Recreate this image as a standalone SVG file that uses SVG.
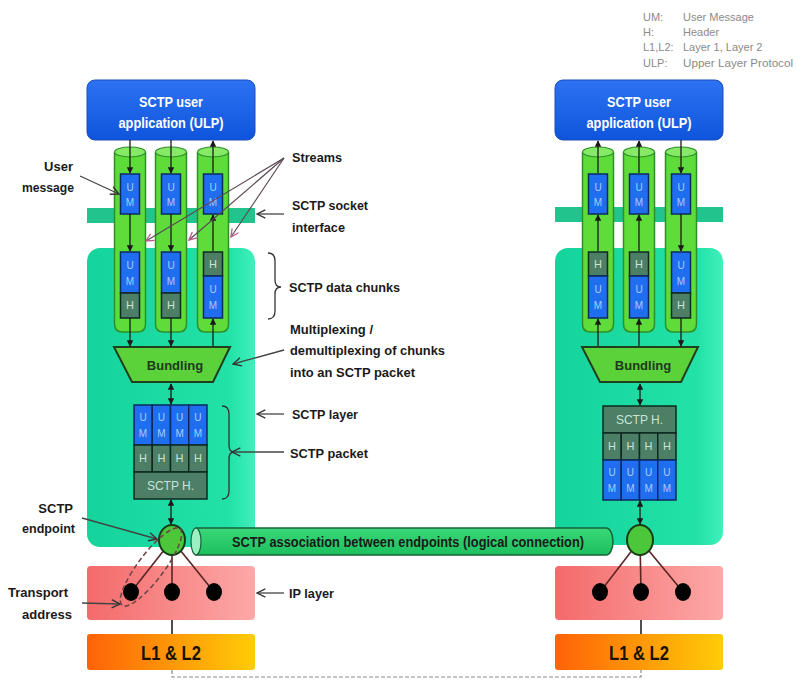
<svg xmlns="http://www.w3.org/2000/svg" width="797" height="680" viewBox="0 0 797 680">
<defs>
<linearGradient id="gUlp" x1="0" y1="0" x2="0" y2="1"><stop offset="0" stop-color="#2d72f2"/><stop offset="1" stop-color="#0f55dc"/></linearGradient>
<linearGradient id="gTeal" x1="0" y1="0" x2="1" y2="0"><stop offset="0" stop-color="#14d49c"/><stop offset="0.85" stop-color="#22e2a8"/><stop offset="1" stop-color="#40f0bc"/></linearGradient>
<linearGradient id="gIp" x1="0" y1="0" x2="1" y2="0"><stop offset="0" stop-color="#f46a6a"/><stop offset="1" stop-color="#fda8a8"/></linearGradient>
<linearGradient id="gL" x1="0" y1="0" x2="1" y2="0"><stop offset="0" stop-color="#ff6208"/><stop offset="1" stop-color="#ffcc08"/></linearGradient>
<linearGradient id="gTube" x1="0" y1="0" x2="0" y2="1"><stop offset="0" stop-color="#3ad878"/><stop offset="1" stop-color="#1cbf5e"/></linearGradient>
<marker id="ah" viewBox="0 0 10 10" refX="9" refY="5" markerWidth="5" markerHeight="5" orient="auto-start-reverse"><path d="M0,0 L10,5 L0,10 z" fill="#1a1a1a"/></marker>
<marker id="oa" viewBox="0 0 10 10" refX="9" refY="5" markerWidth="8" markerHeight="8" orient="auto"><path d="M1,1 L9,5 L1,9" fill="none" stroke="#333" stroke-width="1.3"/></marker>
<marker id="pa" viewBox="0 0 10 10" refX="9" refY="5" markerWidth="8" markerHeight="8" orient="auto"><path d="M1,1 L9,5 L1,9" fill="none" stroke="#c05a8a" stroke-width="1.4"/></marker>
</defs>
<style>
.lbl{font-family:"Liberation Sans",Arial,sans-serif;font-weight:bold;font-size:13px;fill:#1a1a1a}
.ulpT{font-family:"Liberation Sans",Arial,sans-serif;font-weight:bold;font-size:14px;fill:#fff;text-anchor:middle}
.leg{font-family:"Liberation Sans",Arial,sans-serif;font-size:11px;fill:#8a8a8a}
.ulp{fill:url(#gUlp);stroke:#1a4fb8;stroke-width:1}
.band{fill:#22c48e}
.layer{fill:url(#gTeal)}
.cyl{fill:#5edc3a;stroke:#2f8f2a;stroke-width:1.5}
.cylTop{fill:#86ea66;stroke:#2f8f2a;stroke-width:1.2}
.um{fill:#1f6ef0;stroke:#0d2a60;stroke-width:1.5}
.h{fill:#4d7e66;stroke:#0d2a20;stroke-width:1.5}
.bt{font-family:"Liberation Sans",Arial,sans-serif;font-size:10px;fill:#a8ccff;text-anchor:middle}
.ht{font-family:"Liberation Sans",Arial,sans-serif;font-size:11px;fill:#c8e4d4;text-anchor:middle}
.bund{fill:#5cd23a;stroke:#1f3f1f;stroke-width:2}
.bundT{font-family:"Liberation Sans",Arial,sans-serif;font-weight:bold;font-size:13px;fill:#1d3a1d;text-anchor:middle}
.ip{fill:url(#gIp)}
.l12{fill:url(#gL)}
.l12T{font-family:"Liberation Sans",Arial,sans-serif;font-weight:bold;font-size:20px;fill:#1a1200;text-anchor:middle}
.ep{fill:#4cc63a;stroke:#173d17;stroke-width:2}
.dot{fill:#000}
.ln{stroke:#1a1a1a;stroke-width:1.3;fill:none}
.eln{stroke:#5a2424;stroke-width:1.6}
.ptr{stroke:#444;stroke-width:1.3;fill:none}
.sptr{stroke:#5a4a55;stroke-width:1.2;fill:none}
</style>

<!-- Legend -->
<g id="legend">
<text class="leg" x="643" y="21">UM:</text><text class="leg" x="683" y="21">User Message</text>
<text class="leg" x="643" y="36">H:</text><text class="leg" x="683" y="36">Header</text>
<text class="leg" x="643" y="51">L1,L2:</text><text class="leg" x="683" y="51">Layer 1, Layer 2</text>
<text class="leg" x="643" y="67">ULP:</text><text class="leg" x="683" y="67" textLength="110" lengthAdjust="spacingAndGlyphs">Upper Layer Protocol</text>
</g>

<!-- LEFT ENDPOINT STACK -->
<g id="left-ulp">
<rect class="ulp" x="87" y="80" width="168" height="60" rx="8"/>
<text class="ulpT" x="171" y="107" textLength="64" lengthAdjust="spacingAndGlyphs">SCTP user</text>
<text class="ulpT" x="171" y="128" textLength="105" lengthAdjust="spacingAndGlyphs">application (ULP)</text>
</g>
<g id="left-socket"><rect class="band" x="87" y="208" width="168" height="15"/></g>
<g id="left-layer"><rect class="layer" x="87" y="248" width="168" height="299" rx="13"/></g>
<g id="left-ip"><rect class="ip" x="87" y="566" width="168" height="54" rx="4"/></g>
<g id="left-l12"><rect class="l12" x="87" y="634" width="168" height="36" rx="3"/><text class="l12T" x="171" y="660" textLength="60" lengthAdjust="spacingAndGlyphs">L1 &amp; L2</text></g>

<g id="left-streams">
<path class="cyl" d="M114.5,152 V324 Q114.5,332 122.5,332 H137.5 Q145.5,332 145.5,324 V152"/>
<ellipse class="cylTop" cx="130" cy="152" rx="15.5" ry="5"/>
<path class="cyl" d="M155.5,152 V324 Q155.5,332 163.5,332 H178.5 Q186.5,332 186.5,324 V152"/>
<ellipse class="cylTop" cx="171" cy="152" rx="15.5" ry="5"/>
<path class="cyl" d="M197.5,152 V324 Q197.5,332 205.5,332 H220.5 Q228.5,332 228.5,324 V152"/>
<ellipse class="cylTop" cx="213" cy="152" rx="15.5" ry="5"/>
</g>

<g id="left-chunks">
<rect class="um" x="120.5" y="174" width="19" height="40"/><text class="bt" x="130" y="191">U</text><text class="bt" x="130" y="206">M</text>
<rect class="um" x="161.5" y="174" width="19" height="40"/><text class="bt" x="171" y="191">U</text><text class="bt" x="171" y="206">M</text>
<rect class="um" x="203.5" y="174" width="19" height="40"/><text class="bt" x="213" y="191">U</text><text class="bt" x="213" y="206">M</text>
<rect class="um" x="120.5" y="252" width="19" height="41"/><text class="bt" x="130" y="269">U</text><text class="bt" x="130" y="285">M</text>
<rect class="h" x="120.5" y="293" width="19" height="25"/><text class="ht" x="130" y="309">H</text>
<rect class="um" x="161.5" y="252" width="19" height="41"/><text class="bt" x="171" y="269">U</text><text class="bt" x="171" y="285">M</text>
<rect class="h" x="161.5" y="293" width="19" height="25"/><text class="ht" x="171" y="309">H</text>
<rect class="h" x="203.5" y="252" width="19" height="24"/><text class="ht" x="213" y="268">H</text>
<rect class="um" x="203.5" y="276" width="19" height="42"/><text class="bt" x="213" y="293">U</text><text class="bt" x="213" y="309">M</text>
</g>

<g id="left-bundling">
<path class="bund" d="M114,347 H230 L213,382 H132 Z"/>
<text class="bundT" x="175" y="370">Bundling</text>
</g>

<g id="left-packet">
<rect class="um" x="134" y="405" width="18.25" height="40"/><rect class="um" x="152.25" y="405" width="18.25" height="40"/><rect class="um" x="170.5" y="405" width="18.25" height="40"/><rect class="um" x="188.75" y="405" width="18.25" height="40"/>
<text class="bt" x="143" y="421">U</text><text class="bt" x="143" y="437">M</text><text class="bt" x="161.4" y="421">U</text><text class="bt" x="161.4" y="437">M</text><text class="bt" x="179.6" y="421">U</text><text class="bt" x="179.6" y="437">M</text><text class="bt" x="197.9" y="421">U</text><text class="bt" x="197.9" y="437">M</text>
<rect class="h" x="134" y="445" width="18.25" height="27"/><rect class="h" x="152.25" y="445" width="18.25" height="27"/><rect class="h" x="170.5" y="445" width="18.25" height="27"/><rect class="h" x="188.75" y="445" width="18.25" height="27"/>
<text class="ht" x="143" y="462">H</text><text class="ht" x="161.4" y="462">H</text><text class="ht" x="179.6" y="462">H</text><text class="ht" x="197.9" y="462">H</text>
<rect class="h" x="134" y="472" width="73" height="27"/>
<text class="ht" x="170.5" y="490" style="font-size:12px">SCTP H.</text>
</g>

<!-- RIGHT ENDPOINT STACK -->
<g id="right-ulp">
<rect class="ulp" x="555" y="80" width="168" height="60" rx="8"/>
<text class="ulpT" x="639" y="107" textLength="64" lengthAdjust="spacingAndGlyphs">SCTP user</text>
<text class="ulpT" x="639" y="128" textLength="105" lengthAdjust="spacingAndGlyphs">application (ULP)</text>
</g>
<g id="right-socket"><rect class="band" x="555" y="207" width="168" height="15"/></g>
<g id="right-layer"><rect class="layer" x="555" y="248" width="168" height="297" rx="13"/></g>
<g id="right-ip"><rect class="ip" x="555" y="566" width="168" height="54" rx="4"/></g>
<g id="right-l12"><rect class="l12" x="555" y="634" width="168" height="36" rx="3"/><text class="l12T" x="639" y="660" textLength="60" lengthAdjust="spacingAndGlyphs">L1 &amp; L2</text></g>

<g id="right-streams">
<path class="cyl" d="M582.5,152 V324 Q582.5,332 590.5,332 H605.5 Q613.5,332 613.5,324 V152"/>
<ellipse class="cylTop" cx="598" cy="152" rx="15.5" ry="5"/>
<path class="cyl" d="M623.5,152 V324 Q623.5,332 631.5,332 H646.5 Q654.5,332 654.5,324 V152"/>
<ellipse class="cylTop" cx="639" cy="152" rx="15.5" ry="5"/>
<path class="cyl" d="M665.5,152 V324 Q665.5,332 673.5,332 H688.5 Q696.5,332 696.5,324 V152"/>
<ellipse class="cylTop" cx="681" cy="152" rx="15.5" ry="5"/>
</g>

<g id="right-chunks">
<rect class="um" x="588.5" y="174" width="19" height="40"/><text class="bt" x="598" y="191">U</text><text class="bt" x="598" y="206">M</text>
<rect class="um" x="629.5" y="174" width="19" height="40"/><text class="bt" x="639" y="191">U</text><text class="bt" x="639" y="206">M</text>
<rect class="um" x="671.5" y="174" width="19" height="40"/><text class="bt" x="681" y="191">U</text><text class="bt" x="681" y="206">M</text>
<rect class="h" x="588.5" y="252" width="19" height="24"/><text class="ht" x="598" y="268">H</text>
<rect class="um" x="588.5" y="276" width="19" height="42"/><text class="bt" x="598" y="293">U</text><text class="bt" x="598" y="309">M</text>
<rect class="h" x="629.5" y="252" width="19" height="24"/><text class="ht" x="639" y="268">H</text>
<rect class="um" x="629.5" y="276" width="19" height="42"/><text class="bt" x="639" y="293">U</text><text class="bt" x="639" y="309">M</text>
<rect class="um" x="671.5" y="252" width="19" height="41"/><text class="bt" x="681" y="269">U</text><text class="bt" x="681" y="285">M</text>
<rect class="h" x="671.5" y="293" width="19" height="25"/><text class="ht" x="681" y="309">H</text>
</g>

<g id="right-bundling">
<path class="bund" d="M582,347 H698 L681,382 H600 Z"/>
<text class="bundT" x="643" y="370">Bundling</text>
</g>

<g id="right-packet">
<rect class="h" x="603" y="406" width="73" height="27"/>
<text class="ht" x="639.5" y="424" style="font-size:12px">SCTP H.</text>
<rect class="h" x="603" y="433" width="18.25" height="27"/><rect class="h" x="621.25" y="433" width="18.25" height="27"/><rect class="h" x="639.5" y="433" width="18.25" height="27"/><rect class="h" x="657.75" y="433" width="18.25" height="27"/>
<text class="ht" x="612" y="450">H</text><text class="ht" x="630.4" y="450">H</text><text class="ht" x="648.6" y="450">H</text><text class="ht" x="666.9" y="450">H</text>
<rect class="um" x="603" y="460" width="18.25" height="40"/><rect class="um" x="621.25" y="460" width="18.25" height="40"/><rect class="um" x="639.5" y="460" width="18.25" height="40"/><rect class="um" x="657.75" y="460" width="18.25" height="40"/>
<text class="bt" x="612" y="476">U</text><text class="bt" x="612" y="492">M</text><text class="bt" x="630.4" y="476">U</text><text class="bt" x="630.4" y="492">M</text><text class="bt" x="648.6" y="476">U</text><text class="bt" x="648.6" y="492">M</text><text class="bt" x="666.9" y="476">U</text><text class="bt" x="666.9" y="492">M</text>
</g>

<!-- Association tube -->
<g id="association">
<path d="M196,528 H606 A7,13.5 0 0 1 606,555 H196 Z" fill="url(#gTube)" stroke="#17613a" stroke-width="1.5"/>
<ellipse cx="196" cy="541.5" rx="5" ry="13.5" fill="#9af0c0" stroke="#17613a" stroke-width="1.2"/>
<text class="lbl" x="232" y="547" textLength="352" lengthAdjust="spacingAndGlyphs" style="font-size:14px">SCTP association between endpoints (logical connection)</text>
</g>

<!-- connectors -->
<g id="connectors">
<!-- left stream flows -->
<line class="ln" x1="130" y1="140" x2="130" y2="173" marker-end="url(#ah)"/>
<line class="ln" x1="130" y1="214" x2="130" y2="251" marker-end="url(#ah)"/>
<line class="ln" x1="130" y1="318" x2="130" y2="346" marker-end="url(#ah)"/>
<line class="ln" x1="171" y1="140" x2="171" y2="173" marker-end="url(#ah)"/>
<line class="ln" x1="171" y1="214" x2="171" y2="251" marker-end="url(#ah)"/>
<line class="ln" x1="171" y1="318" x2="171" y2="346" marker-end="url(#ah)"/>
<line class="ln" x1="213" y1="173" x2="213" y2="141" marker-end="url(#ah)"/>
<line class="ln" x1="213" y1="251" x2="213" y2="215" marker-end="url(#ah)"/>
<line class="ln" x1="213" y1="346" x2="213" y2="319" marker-end="url(#ah)"/>
<line class="ln" x1="171" y1="384" x2="171" y2="404" marker-start="url(#ah)" marker-end="url(#ah)"/>
<line class="ln" x1="171" y1="500" x2="171" y2="524" marker-start="url(#ah)" marker-end="url(#ah)"/>
<!-- right stream flows -->
<line class="ln" x1="598" y1="173" x2="598" y2="141" marker-end="url(#ah)"/>
<line class="ln" x1="598" y1="251" x2="598" y2="215" marker-end="url(#ah)"/>
<line class="ln" x1="598" y1="346" x2="598" y2="319" marker-end="url(#ah)"/>
<line class="ln" x1="639" y1="173" x2="639" y2="141" marker-end="url(#ah)"/>
<line class="ln" x1="639" y1="251" x2="639" y2="215" marker-end="url(#ah)"/>
<line class="ln" x1="639" y1="346" x2="639" y2="319" marker-end="url(#ah)"/>
<line class="ln" x1="681" y1="140" x2="681" y2="173" marker-end="url(#ah)"/>
<line class="ln" x1="681" y1="214" x2="681" y2="251" marker-end="url(#ah)"/>
<line class="ln" x1="681" y1="318" x2="681" y2="346" marker-end="url(#ah)"/>
<line class="ln" x1="640" y1="384" x2="640" y2="405" marker-start="url(#ah)" marker-end="url(#ah)"/>
<line class="ln" x1="640" y1="501" x2="640" y2="524" marker-start="url(#ah)" marker-end="url(#ah)"/>
<!-- endpoint to IP addresses -->
<line class="eln" x1="172" y1="540" x2="131" y2="592"/>
<line class="eln" x1="172" y1="540" x2="172" y2="592"/>
<line class="eln" x1="172" y1="540" x2="214" y2="592"/>
<line class="eln" x1="640" y1="540" x2="600" y2="592"/>
<line class="eln" x1="640" y1="540" x2="641" y2="592"/>
<line class="eln" x1="640" y1="540" x2="683" y2="592"/>
<!-- IP to L1L2 -->
<line x1="172" y1="620" x2="172" y2="634" stroke="#222" stroke-width="1.6"/>
<line x1="641" y1="620" x2="641" y2="634" stroke="#222" stroke-width="1.6"/>
<!-- physical link -->
<path d="M172,670 V677 H641 V670" fill="none" stroke="#8a8a8a" stroke-width="1.2" stroke-dasharray="4,2"/>
<!-- label pointers -->
<line class="ptr" x1="80" y1="176" x2="119" y2="194" marker-end="url(#oa)"/>
<line class="sptr" x1="284" y1="158" x2="146" y2="241" marker-end="url(#pa)"/>
<line class="sptr" x1="284" y1="158" x2="189" y2="240" marker-end="url(#pa)"/>
<line class="sptr" x1="284" y1="158" x2="231" y2="237" marker-end="url(#pa)"/>
<line class="ptr" x1="284" y1="214" x2="257" y2="214" marker-end="url(#oa)"/>
<line class="ptr" x1="284" y1="350" x2="233" y2="364" marker-end="url(#oa)"/>
<line class="ptr" x1="284" y1="414" x2="257" y2="414" marker-end="url(#oa)"/>
<line class="ptr" x1="284" y1="452" x2="232" y2="452" marker-end="url(#oa)"/>
<line class="ptr" x1="82" y1="518" x2="157" y2="539" marker-end="url(#oa)"/>
<line class="ptr" x1="82" y1="603" x2="120" y2="604" marker-end="url(#oa)"/>
<line class="ptr" x1="284" y1="593" x2="257" y2="593" marker-end="url(#oa)"/>
<!-- braces -->
<path d="M268,253 Q275,253 275,261 V280 Q275,287 281,287 Q275,287 275,294 V311 Q275,319 268,319" fill="none" stroke="#333" stroke-width="1.3"/>
<path d="M222,406 Q229,406 229,414 V445 Q229,452 234,452 Q229,452 229,459 V491 Q229,499 222,499" fill="none" stroke="#333" stroke-width="1.3"/>
</g>

<!-- Endpoints and addresses -->
<g id="left-endpoint"><ellipse class="ep" cx="172" cy="540" rx="13" ry="15"/></g>
<g id="right-endpoint"><ellipse class="ep" cx="640" cy="540" rx="13" ry="15"/></g>
<g id="left-addresses">
<ellipse class="dot" cx="131" cy="592" rx="8" ry="9"/><ellipse class="dot" cx="172" cy="592" rx="8" ry="9"/><ellipse class="dot" cx="214" cy="592" rx="8" ry="9"/>
</g>
<g id="right-addresses">
<ellipse class="dot" cx="600" cy="592" rx="8" ry="9"/><ellipse class="dot" cx="641" cy="592" rx="8" ry="9"/><ellipse class="dot" cx="683" cy="592" rx="8" ry="9"/>
</g>
<g id="transport-address"><ellipse cx="151" cy="567" rx="48" ry="13" transform="rotate(-53 151 567)" fill="none" stroke="#6e4646" stroke-width="1.6" stroke-dasharray="5,3"/></g>

<!-- Labels -->
<g id="labels">
<text class="lbl" x="73" y="171" text-anchor="end">User</text>
<text class="lbl" x="74" y="192" text-anchor="end" textLength="52" lengthAdjust="spacingAndGlyphs">message</text>
<text class="lbl" x="292" y="162" textLength="50" lengthAdjust="spacingAndGlyphs">Streams</text>
<text class="lbl" x="292" y="210" textLength="76" lengthAdjust="spacingAndGlyphs">SCTP socket</text>
<text class="lbl" x="292" y="232" textLength="53" lengthAdjust="spacingAndGlyphs">interface</text>
<text class="lbl" x="289" y="292" textLength="111" lengthAdjust="spacingAndGlyphs">SCTP data chunks</text>
<text class="lbl" x="290" y="334" textLength="83" lengthAdjust="spacingAndGlyphs">Multiplexing /</text>
<text class="lbl" x="290" y="355" textLength="155" lengthAdjust="spacingAndGlyphs">demultiplexing of chunks</text>
<text class="lbl" x="290" y="377" textLength="125" lengthAdjust="spacingAndGlyphs">into an SCTP packet</text>
<text class="lbl" x="292" y="419" textLength="66" lengthAdjust="spacingAndGlyphs">SCTP layer</text>
<text class="lbl" x="290" y="458" textLength="78" lengthAdjust="spacingAndGlyphs">SCTP packet</text>
<text class="lbl" x="73" y="513" text-anchor="end">SCTP</text>
<text class="lbl" x="75" y="533" text-anchor="end" textLength="53" lengthAdjust="spacingAndGlyphs">endpoint</text>
<text class="lbl" x="68" y="597" text-anchor="end" textLength="60" lengthAdjust="spacingAndGlyphs">Transport</text>
<text class="lbl" x="72" y="619" text-anchor="end" textLength="50" lengthAdjust="spacingAndGlyphs">address</text>
<text class="lbl" x="289" y="598" textLength="45" lengthAdjust="spacingAndGlyphs">IP layer</text>
</g>
</svg>
